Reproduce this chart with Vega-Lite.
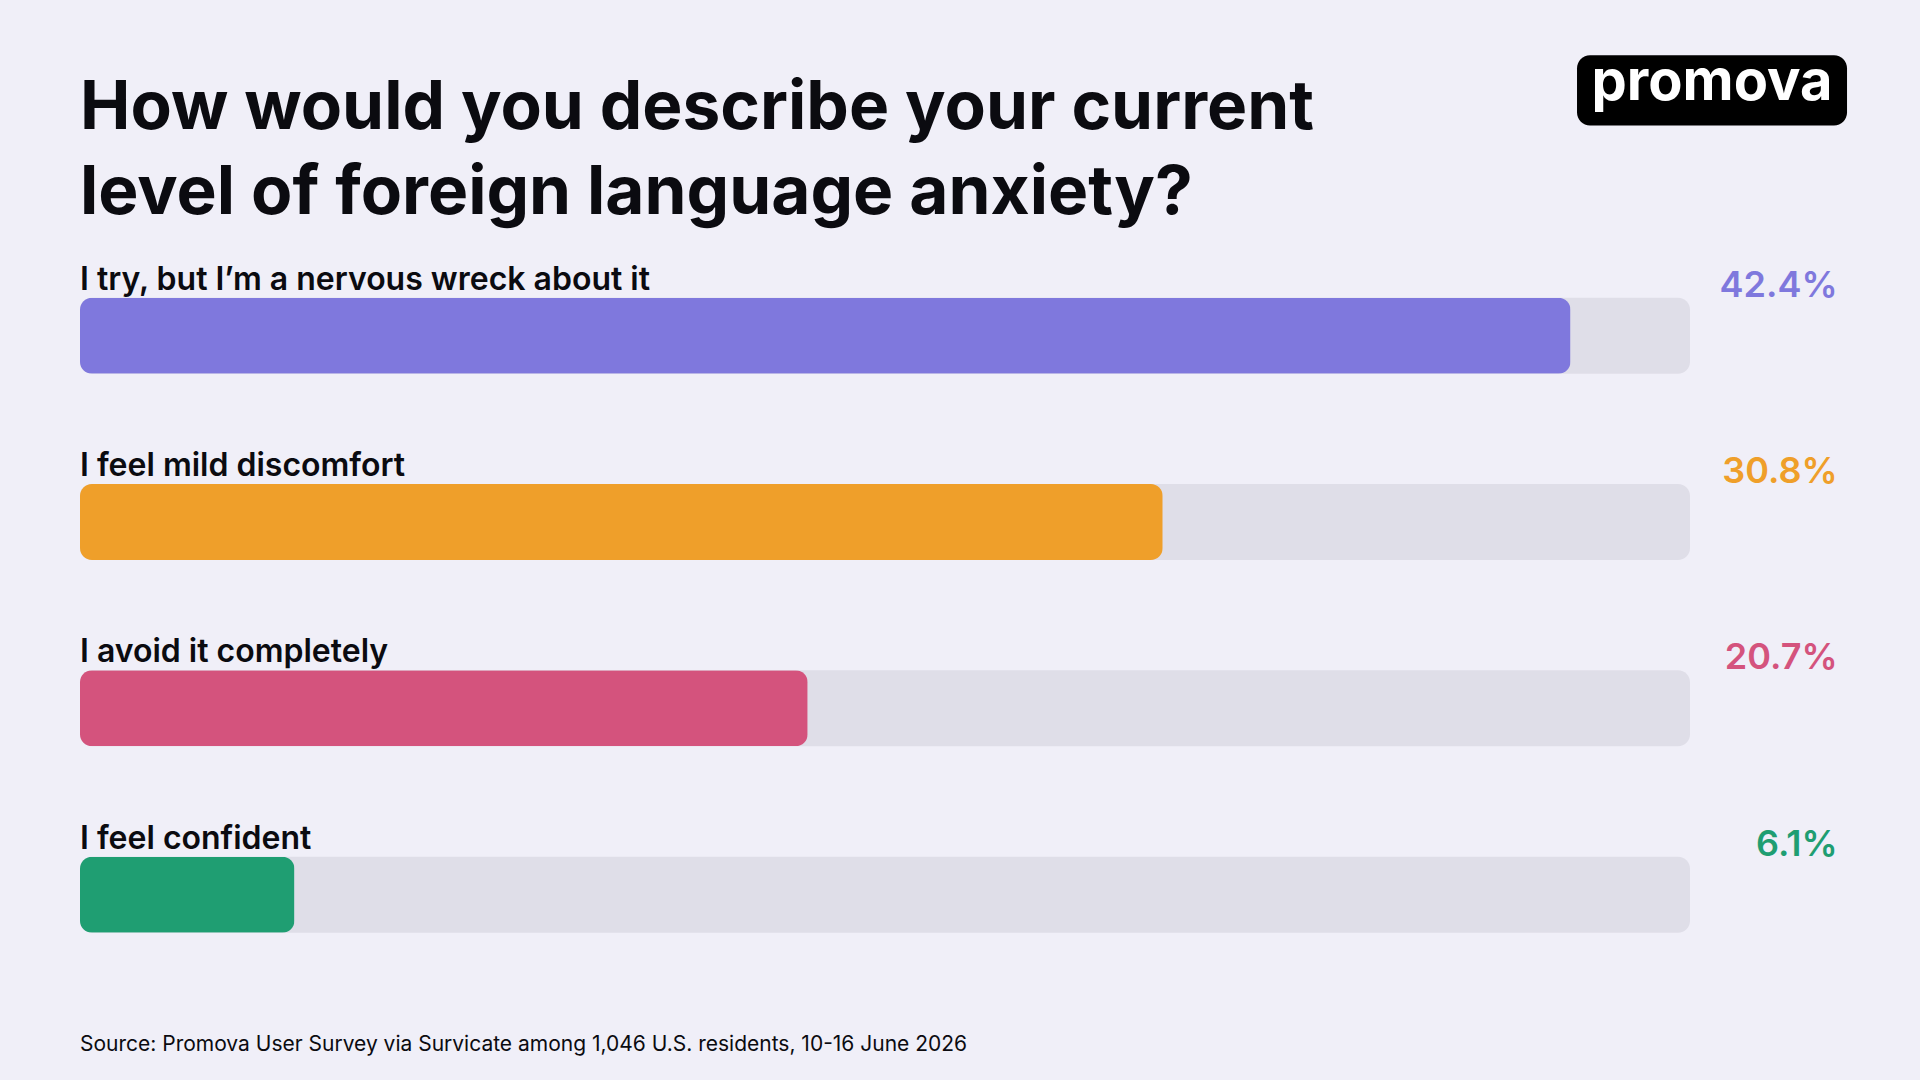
{
  "$schema": "https://vega.github.io/schema/vega-lite/v6.json",
  "width": 1920,
  "height": 1080,
  "autosize": {"type": "none"},
  "padding": 0,
  "background": "#f0eff8",
  "config": {"view": {"stroke": null}, "font": "Inter"},
  "datasets": {
    "answers": [
      {"answer": "I try, but I’m a nervous wreck about it", "share": 0.424, "rank": 1},
      {"answer": "I feel mild discomfort", "share": 0.308, "rank": 2},
      {"answer": "I avoid it completely", "share": 0.207, "rank": 3},
      {"answer": "I feel confident", "share": 0.061, "rank": 4}
    ],
    "header": [
      {"title": "How would you describe your current\nlevel of foreign language anxiety?", "brand": "promova", "source": "Source: Promova User Survey via Survicate among 1,046 U.S. residents, 10-16 June 2026"}
    ]
  },
  "layer": [
    {
      "data": {"name": "answers"},
      "mark": {"type": "bar", "orient": "horizontal", "height": 76, "cornerRadius": 12, "color": "#dfdee8"},
      "encoding": {
        "x": {"datum": 0.458, "type": "quantitative", "scale": {"domain": [0, 0.458], "range": [80, 1690], "nice": false, "zero": true}, "axis": null},
        "y": {"field": "rank", "type": "quantitative", "scale": {"domain": [-0.7745, 4.9677], "range": [0, 1080], "nice": false, "zero": false}, "axis": null}
      }
    },
    {
      "data": {"name": "answers"},
      "mark": {"type": "bar", "orient": "horizontal", "height": 76, "cornerRadius": 12},
      "encoding": {
        "x": {"field": "share", "type": "quantitative", "axis": null},
        "y": {"field": "rank", "type": "quantitative", "axis": null},
        "color": {"field": "answer", "type": "nominal", "legend": null, "scale": {"domain": ["I try, but I’m a nervous wreck about it", "I feel mild discomfort", "I avoid it completely", "I feel confident"], "range": ["#7f78dd", "#ef9f2a", "#d4537d", "#1f9e72"]}}
      }
    },
    {
      "data": {"name": "answers"},
      "mark": {"type": "text", "align": "left", "baseline": "alphabetic", "dy": -46, "fontSize": 32, "fontWeight": 600, "color": "#0b0b10"},
      "encoding": {
        "x": {"datum": 0, "type": "quantitative"},
        "y": {"field": "rank", "type": "quantitative"},
        "text": {"field": "answer"}
      }
    },
    {
      "data": {"name": "answers"},
      "mark": {"type": "text", "align": "right", "baseline": "alphabetic", "dy": -39, "fontSize": 36, "fontWeight": 600},
      "encoding": {
        "x": {"datum": 0.5, "type": "quantitative"},
        "y": {"field": "rank", "type": "quantitative"},
        "text": {"field": "share", "format": ".1%"},
        "color": {"field": "answer", "type": "nominal", "legend": null}
      }
    },
    {
      "data": {"name": "header"},
      "mark": {"type": "text", "align": "left", "baseline": "alphabetic", "fontSize": 67.5, "fontWeight": 700, "lineBreak": "\n", "lineHeight": 85, "color": "#0b0b10"},
      "encoding": {
        "x": {"datum": 0, "type": "quantitative"},
        "y": {"datum": -0.110, "type": "quantitative"},
        "text": {"field": "title"}
      }
    },
    {
      "data": {"name": "header"},
      "mark": {"type": "rect", "cornerRadius": 13, "color": "#000000"},
      "encoding": {
        "x": {"datum": 0.42586, "type": "quantitative"},
        "x2": {"datum": 0.50267},
        "y": {"datum": -0.505, "type": "quantitative"},
        "y2": {"datum": -0.128}
      }
    },
    {
      "data": {"name": "header"},
      "mark": {"type": "text", "align": "center", "baseline": "alphabetic", "fontSize": 56, "fontWeight": 700, "color": "#ffffff"},
      "encoding": {
        "x": {"datum": 0.46426, "type": "quantitative"},
        "y": {"datum": -0.262, "type": "quantitative"},
        "text": {"field": "brand"}
      }
    },
    {
      "data": {"name": "header"},
      "mark": {"type": "text", "align": "left", "baseline": "alphabetic", "fontSize": 21, "fontWeight": 400, "color": "#0b0b10"},
      "encoding": {
        "x": {"datum": 0, "type": "quantitative"},
        "y": {"datum": 4.840, "type": "quantitative"},
        "text": {"field": "source"}
      }
    }
  ]
}
